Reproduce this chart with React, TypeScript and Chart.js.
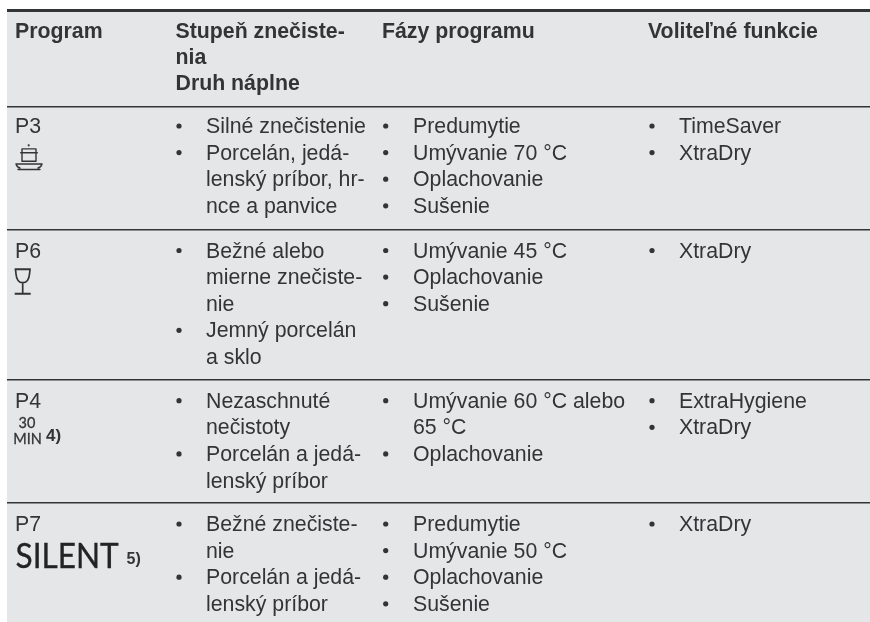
import React, { useEffect, useRef } from "react";
import { Chart, registerables } from "chart.js";

Chart.register(...registerables);

const headerLabels = ["Program", "Stupeň znečiste-\nnia\nDruh náplne", "Fázy programu", "Voliteľné funkcie"];
const programNames = ["P3", "P6", "P4", "P7"];
const soilLevels: string[][][] = [
  [["Silné znečistenie"], ["Porcelán, jedá-", "lenský príbor, hr-", "nce a panvice"]],
  [["Bežné alebo", "mierne znečiste-", "nie"], ["Jemný porcelán", "a sklo"]],
  [["Nezaschnuté", "nečistoty"], ["Porcelán a jedá-", "lenský príbor"]],
  [["Bežné znečiste-", "nie"], ["Porcelán a jedá-", "lenský príbor"]],
];
const programPhases: string[][][] = [
  [["Predumytie"], ["Umývanie 70 °C"], ["Oplachovanie"], ["Sušenie"]],
  [["Umývanie 45 °C"], ["Oplachovanie"], ["Sušenie"]],
  [["Umývanie 60 °C alebo", "65 °C"], ["Oplachovanie"]],
  [["Predumytie"], ["Umývanie 50 °C"], ["Oplachovanie"], ["Sušenie"]],
];
const optionalFunctions: string[][][] = [
  [["TimeSaver"], ["XtraDry"]],
  [["XtraDry"]],
  [["ExtraHygiene"], ["XtraDry"]],
  [["XtraDry"]],
];

// layout
const RULES = [10, 107, 230, 380, 503];
const FIRST_BASELINE = [133, 257.5, 407.7, 531];
const PITCH = 26.6;
const HEADER_BASE = 38;
const HEAD_X = [15, 175.5, 382, 648];
const BULLET_X = [179, 385.7, 652];
const TEXT_X = [206, 413, 679];
const INK = "#333436";
const BODY = "21.3px 'Liberation Sans'";
const BOLD = "bold 21.3px 'Liberation Sans'";

const cellColumns = [soilLevels, programPhases, optionalFunctions];

function bulletPoints() {
  const pts: { x: number; y: number }[] = [];
  cellColumns.forEach((col, c) =>
    col.forEach((cell, r) => {
      let line = 0;
      cell.forEach((group) => {
        pts.push({ x: BULLET_X[c], y: FIRST_BASELINE[r] + line * PITCH - 7 });
        line += group.length;
      });
    })
  );
  return pts;
}

const tablePlugin = {
  id: "tablePlugin",
  beforeDraw(chart: any) {
    const { ctx, scales } = chart;
    const X = (v: number) => scales.x.getPixelForValue(v);
    const Y = (v: number) => scales.y.getPixelForValue(v);
    ctx.save();
    ctx.fillStyle = "#ffffff";
    ctx.fillRect(0, 0, chart.width, chart.height);
    ctx.fillStyle = "#e5e6e8";
    ctx.fillRect(X(7), Y(9), X(870) - X(7), Y(622) - Y(9));
    ctx.restore();
  },
  afterDraw(chart: any) {
    const { ctx, scales } = chart;
    const X = (v: number) => scales.x.getPixelForValue(v);
    const Y = (v: number) => scales.y.getPixelForValue(v);
    ctx.save();
    ctx.fillStyle = INK;
    ctx.strokeStyle = INK;
    ctx.textBaseline = "alphabetic";

    ctx.font = BOLD;
    headerLabels.forEach((h, i) =>
      h.split("\n").forEach((t, j) => ctx.fillText(t, X(HEAD_X[i]), Y(HEADER_BASE + j * 26)))
    );

    ctx.font = BODY;
    programNames.forEach((p, r) => ctx.fillText(p, X(HEAD_X[0]), Y(FIRST_BASELINE[r])));
    cellColumns.forEach((col, c) =>
      col.forEach((cell, r) => {
        let line = 0;
        cell.forEach((group) =>
          group.forEach((t) => {
            ctx.fillText(t, X(TEXT_X[c]), Y(FIRST_BASELINE[r] + line * PITCH));
            line++;
          })
        );
      })
    );

    // pot icon (P3)
    ctx.lineWidth = 1.4;
    ctx.lineJoin = "round";
    ctx.lineCap = "round";
    ctx.beginPath();
    ctx.arc(X(28.7), Y(145.3), 1.1, 0, 7);
    ctx.fill();
    ctx.beginPath();
    ctx.moveTo(X(22), Y(152.7));
    ctx.lineTo(X(22), Y(148.9));
    ctx.lineTo(X(36), Y(148.9));
    ctx.lineTo(X(36), Y(152.7));
    ctx.moveTo(X(20.7), Y(152.7));
    ctx.lineTo(X(37.3), Y(152.7));
    ctx.moveTo(X(22), Y(152.7));
    ctx.lineTo(X(22), Y(161.3));
    ctx.lineTo(X(36), Y(161.3));
    ctx.lineTo(X(36), Y(152.7));
    ctx.moveTo(X(16), Y(164));
    ctx.lineTo(X(42), Y(164));
    ctx.moveTo(X(16), Y(164));
    ctx.quadraticCurveTo(X(17), Y(167.5), X(20), Y(168));
    ctx.moveTo(X(42), Y(164));
    ctx.quadraticCurveTo(X(41), Y(167.5), X(38), Y(168));
    ctx.moveTo(X(18), Y(169.5));
    ctx.lineTo(X(40), Y(169.5));
    ctx.stroke();

    // glass icon (P6)
    ctx.lineCap = "butt";
    ctx.lineWidth = 1.7;
    ctx.beginPath();
    ctx.moveTo(X(15.5), Y(269.5));
    ctx.lineTo(X(16), Y(274));
    ctx.bezierCurveTo(X(16.5), Y(280), X(19), Y(282.7), X(22.7), Y(282.7));
    ctx.bezierCurveTo(X(26.5), Y(282.7), X(29), Y(280), X(29.5), Y(274));
    ctx.lineTo(X(30), Y(269.5));
    ctx.moveTo(X(22.7), Y(282.7));
    ctx.lineTo(X(22.7), Y(293.7));
    ctx.stroke();
    ctx.lineWidth = 2;
    ctx.beginPath();
    ctx.moveTo(X(14.7), Y(269.3));
    ctx.lineTo(X(30.7), Y(269.3));
    ctx.moveTo(X(14.7), Y(293.7));
    ctx.lineTo(X(30.7), Y(293.7));
    ctx.stroke();

    // 30 MIN (P4)
    ctx.font = "14.5px Lato";
    ctx.textAlign = "center";
    ctx.lineWidth = 0.3;
    ctx.fillText("30", X(27), Y(428));
    ctx.strokeText("30", X(27), Y(428));
    ctx.fillText("MIN", X(27.5), Y(444));
    ctx.strokeText("MIN", X(27.5), Y(444));
    ctx.textAlign = "left";
    ctx.font = "bold 17px 'Liberation Sans'";
    ctx.fillText("4)", X(46), Y(441));

    // SILENT (P7)
    ctx.save();
    ctx.translate(X(15.5), Y(567.8));
    ctx.scale(0.89, 1);
    ctx.font = "35.5px Lato";
    ctx.fillStyle = "#222325";
    ctx.strokeStyle = "#222325";
    ctx.lineWidth = 0.35;
    ctx.fillText("SILENT", 0, 0);
    ctx.strokeText("SILENT", 0, 0);
    ctx.restore();
    ctx.font = "bold 16px 'Liberation Sans'";
    ctx.fillText("5)", X(126.5), Y(563.5));
    ctx.restore();
  },
};

export default function App() {
  const ref = useRef<HTMLCanvasElement>(null);
  useEffect(() => {
    document.body.style.margin = "0";
    const chart = new Chart(ref.current!, {
      type: "scatter",
      data: {
        datasets: [
          {
            data: bulletPoints(),
            pointRadius: 2.6,
            pointBackgroundColor: INK,
            pointBorderWidth: 0,
            showLine: false,
          },
        ],
      },
      options: {
        animation: false,
        responsive: false,
        events: [],
        layout: { autoPadding: false, padding: { left: 7, right: 0, top: 0, bottom: 0 } },
        plugins: { legend: { display: false }, tooltip: { enabled: false }, title: { display: false } },
        scales: {
          x: { type: "linear", min: 7, max: 870, display: false },
          y: {
            type: "linear",
            reverse: true,
            min: 0,
            max: 622,
            afterBuildTicks: (axis: any) => {
              axis.ticks = RULES.map((value) => ({ value }));
            },
            border: { display: false },
            ticks: { display: false },
            grid: {
              drawTicks: false,
              color: INK,
              lineWidth: (c: any) => (c.index === 0 ? 3 : 1.6),
            },
          },
        },
      },
      plugins: [tablePlugin],
    } as any);
    return () => chart.destroy();
  }, []);
  return <canvas ref={ref} width={870} height={622} style={{ display: "block", width: 870, height: 622 }} />;
}
